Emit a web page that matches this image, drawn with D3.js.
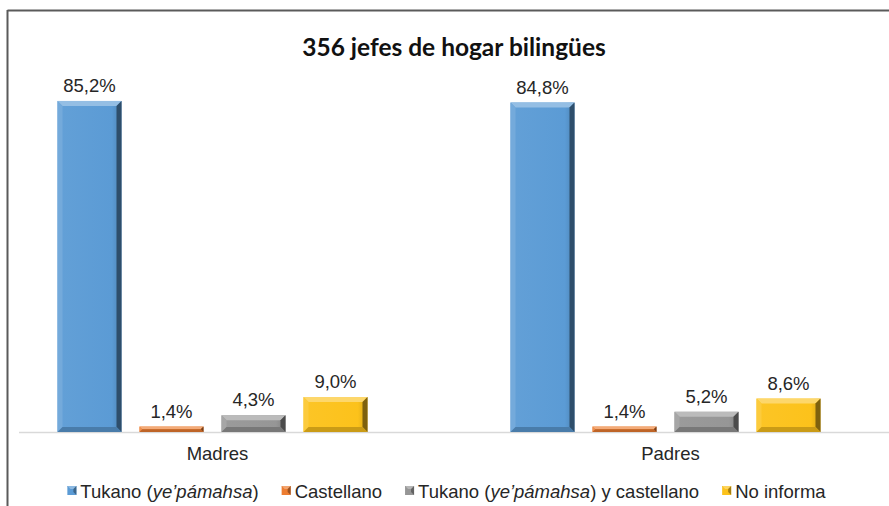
<!DOCTYPE html>
<html><head><meta charset="utf-8">
<script src="https://cdn.jsdelivr.net/npm/d3@7"></script>
<style>body{margin:0;background:#fff}svg{display:block}</style>
</head><body><svg id="c" width="889" height="506"></svg>
<script>
const categories = ["Madres", "Padres"];
const seriesNames = ["Tukano (ye’pámahsa)", "Castellano", "Tukano (ye’pámahsa) y castellano", "No informa"];
const tukano = [85.2, 84.8];
const castellano = [1.4, 1.4];
const ambos = [4.3, 5.2];
const noInforma = [9.0, 8.6];
const seriesValues = [tukano, castellano, ambos, noInforma];
const titleText = "356 jefes de hogar bilingües";
const colors = ["#5b9bd5", "#ed7d31", "#969696", "#fcc21b"];

const svg = d3.select("#c");
const W = 889, H = 506;
const fmt = v => d3.format(".1f")(v).replace(".", ",") + "%";

// frame
svg.append("line").attr("x1", 7.5).attr("x2", W).attr("y1", 10.5).attr("y2", 10.5).attr("stroke", "#5a5a5a").attr("stroke-width", 2);
svg.append("line").attr("x1", 7.5).attr("x2", 7.5).attr("y1", 10).attr("y2", H).attr("stroke", "#5a5a5a").attr("stroke-width", 2);

svg.append("text").attr("x", 454).attr("y", 56).attr("text-anchor", "middle")
  .attr("font-family", "Lato, 'Open Sans', sans-serif").attr("font-weight", "bold").attr("font-size", 24.5)
  .attr("fill", "#111").text(titleText);

const y = d3.scaleLinear().domain([0, 90]).range([432, 82.3]);
const x0 = d3.scaleBand().domain(categories).range([-14, 892]);
const x1 = d3.scaleBand().domain(d3.range(seriesNames.length)).range([0, 310]).paddingInner(18/82);

svg.append("line").attr("x1", 19).attr("x2", W).attr("y1", y(0) + 0.5).attr("y2", y(0) + 0.5)
  .attr("stroke", "#d9d9d9").attr("stroke-width", 1.5);

const defs = svg.append("defs");
function shade(c, k) { return k > 0 ? d3.interpolateRgb(c, "#ffffff")(k) : d3.interpolateRgb(c, "#000000")(-k); }

const data = [];
categories.forEach((cat, ci) => seriesValues.forEach((vals, si) => data.push({cat, ci, si, v: vals[ci]})));

const g = svg.append("g");
data.forEach(d => {
  const bx = x0(d.cat) + x0.bandwidth() / 2 - 155 + x1(d.si);
  const bw = x1.bandwidth();
  const top = y(d.v), bot = y(0);
  const h = bot - top;
  const c = colors[d.si];
  const b = Math.min(5, h / 2);
  const gid = "g" + d.ci + "_" + d.si;
  const lg = defs.append("linearGradient").attr("id", gid).attr("x1", 0).attr("x2", 1).attr("y1", 0).attr("y2", 0);
  lg.append("stop").attr("offset", 0).attr("stop-color", shade(c, 0.05));
  lg.append("stop").attr("offset", 0.85).attr("stop-color", c);
  lg.append("stop").attr("offset", 1).attr("stop-color", shade(c, -0.15));
  g.append("rect").attr("x", bx).attr("y", top).attr("width", bw).attr("height", h).attr("fill", `url(#${gid})`);
  const pt = (a) => a.map(p => p.join(",")).join(" ");
  g.append("polygon").attr("points", pt([[bx, top], [bx + bw, top], [bx + bw - b, top + b], [bx + b, top + b]])).attr("fill", shade(c, 0.35));
  g.append("polygon").attr("points", pt([[bx, top], [bx + b, top + b], [bx + b, bot - b], [bx, bot]])).attr("fill", shade(c, 0.15));
  g.append("polygon").attr("points", pt([[bx + bw, top], [bx + bw, bot], [bx + bw - b, bot - b], [bx + bw - b, top + b]])).attr("fill", shade(c, -0.5));
  g.append("polygon").attr("points", pt([[bx, bot], [bx + b, bot - b], [bx + bw - b, bot - b], [bx + bw, bot]])).attr("fill", shade(c, -0.2));
  g.append("text").attr("x", bx + bw / 2).attr("y", top - 9).attr("text-anchor", "middle")
    .attr("font-family", "Liberation Sans, Arial, sans-serif").attr("font-size", 18.5).attr("fill", "#262626").text(fmt(d.v));
});

categories.forEach(cat => {
  svg.append("text").attr("x", x0(cat) + x0.bandwidth() / 2 + 5).attr("y", 460).attr("text-anchor", "middle")
    .attr("font-family", "Liberation Sans, Arial, sans-serif").attr("font-size", 18.5).attr("fill", "#262626").text(cat);
});

// legend
const leg = svg.append("g").attr("font-family", "Liberation Sans, Arial, sans-serif").attr("font-size", 18.5).attr("fill", "#262626");
function legendText(t, name) {
  const parts = name.split(/(ye’pámahsa)/);
  parts.forEach(p => { if (p) t.append("tspan").attr("font-style", p === "ye’pámahsa" ? "italic" : "normal").text(p); });
}
const items = [];
seriesNames.forEach((n, i) => {
  const it = leg.append("g");
  const t = it.append("text").attr("x", 14).attr("y", 498);
  legendText(t, n);
  const w = t.node().getComputedTextLength();
  items.push({it, w, i});
});
const markerGap = 14, itemGap = 22;
const total = d3.sum(items, d => markerGap + d.w) + itemGap * (items.length - 1);
let cx = 446 - total / 2;
items.forEach(d => {
  d.it.attr("transform", `translate(${cx},0)`);
  const c = colors[d.i];
  d.it.insert("rect", "text").attr("x", 1).attr("y", 486).attr("width", 9).attr("height", 9).attr("fill", c);
  d.it.insert("polygon", "text").attr("points", "1,486 10,486 10,495 7,492 7,489").attr("fill", shade(c, -0.35));
  d.it.insert("polygon", "text").attr("points", "1,486 10,486 7,489 4,489").attr("fill", shade(c, 0.3));
  cx += markerGap + d.w + itemGap;
});
</script></body></html>
